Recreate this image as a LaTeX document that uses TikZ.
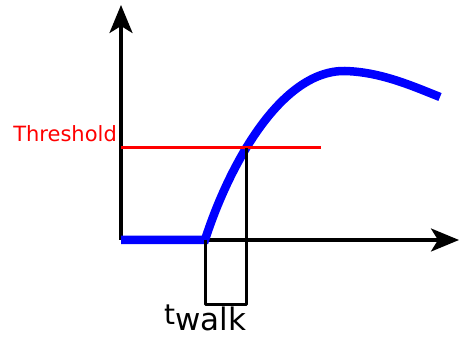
\documentclass[tikz,border=0pt]{standalone}
\usepackage{fontspec}
\setmainfont{DejaVu Sans}
\usetikzlibrary{arrows.meta}
\begin{document}
\begin{tikzpicture}[x=1pt,y=-1pt,
  axis/.style={line width=3.2pt,-{Stealth[length=28pt,width=23pt,inset=7pt]}},
  thin/.style={line width=3pt,line join=round},
  curve/.style={blue,line width=8.5pt},
  thr/.style={red,line width=3pt}]
\useasboundingbox (0,0) rectangle (459,339);
\coordinate (O) at (121,240);
\coordinate (Ytop) at (121,5);
\coordinate (Xend) at (459,240);
\coordinate (S) at (205,240);
\coordinate (C) at (246,148);
\coordinate (P) at (345,71);
\coordinate (E) at (440,97);
\coordinate (Tend) at (321,148);
\coordinate (BL) at (205,305);
\coordinate (BR) at (246,305);
\draw[axis] (O) -- (Ytop);
\draw[axis] (O) -- (Xend);
\draw[curve] (O) -- (S) .. controls (228,168) and (280,70) .. (P) .. controls (380,72) and (410,85) .. (E);
\draw[thr] (O |- C) -- (Tend);
\draw[thin] (S) -- (BL) -- (BR) -- (C);
\node[red,font=\fontsize{21}{24}\selectfont,anchor=base east,inner sep=0pt] (thlabel) at (117,142) {Threshold};
\node[anchor=base west,inner sep=0pt,font=\fontsize{28}{32}\selectfont] (tlabel) at (164,325) {t\raisebox{-6pt}{\fontsize{31}{34}\selectfont walk}};
\end{tikzpicture}
\end{document}
